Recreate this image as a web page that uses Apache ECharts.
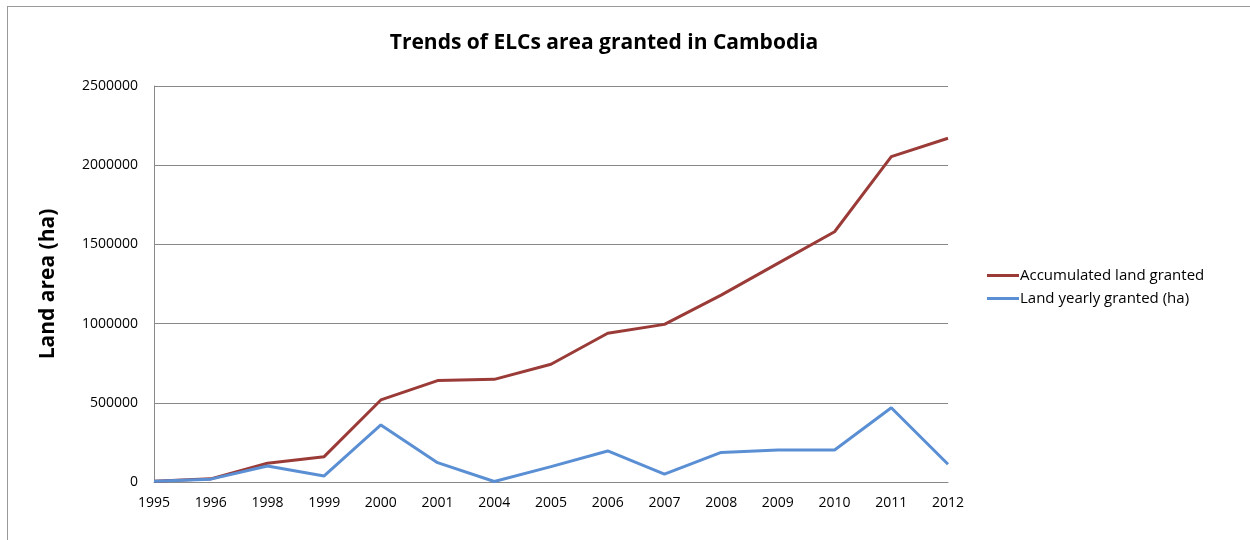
<!DOCTYPE html>
<html>
<head>
<meta charset="utf-8">
<script src="https://cdn.jsdelivr.net/npm/echarts@6/dist/echarts.min.js"></script>
<style>
  html, body { margin: 0; padding: 0; background: #fff; }
  #frame { position: absolute; left: 7px; top: 6px; width: 1300px; height: 600px; border-left: 1px solid #999; border-top: 1px solid #999; }
  #chart { position: absolute; left: 0; top: 0; width: 1250px; height: 540px; }
</style>
</head>
<body>
<div id="frame"></div>
<div id="chart"></div>
<script>
const years = ['1995', '1996', '1998', '1999', '2000', '2001', '2004', '2005', '2006', '2007', '2008', '2009', '2010', '2011', '2012'];
const accumulated = [5000, 20000, 118000, 160000, 518000, 640000, 648000, 743000, 939000, 995000, 1180000, 1380000, 1580000, 2054000, 2170000];
const yearly = [5000, 18000, 101000, 38000, 360000, 122000, 3000, 97000, 196000, 50000, 187000, 202000, 202000, 469000, 112000];

const font = '"Open Sans", "DejaVu Sans", sans-serif';
const chart = echarts.init(document.getElementById('chart'));

chart.setOption({
  backgroundColor: 'transparent',
  animation: false,
  title: {
    text: 'Trends of ELCs area granted in Cambodia',
    left: 599,
    textAlign: 'center',
    top: 28,
    textStyle: { fontFamily: font, fontSize: 21, fontWeight: 'bold', color: '#000' },
  },
  grid: { left: 154, right: 302, top: 86, bottom: 58 },
  legend: {
    orient: 'vertical',
    left: 982,
    top: 263,
    itemWidth: 32,
    itemHeight: 3,
    itemGap: 8,
    icon: 'rect',
    textStyle: { fontFamily: font, fontSize: 15, color: '#000', padding: [0, 0, 0, -4] },
    data: ['Accumulated land granted', 'Land yearly granted (ha)'],
  },
  xAxis: {
    type: 'category',
    data: years,
    boundaryGap: false,
    axisLine: { lineStyle: { color: '#888' } },
    axisTick: { show: false },
    axisLabel: { fontFamily: font, fontSize: 14, color: '#000', margin: 14 },
  },
  yAxis: {
    type: 'value',
    min: 0,
    max: 2500000,
    interval: 500000,
    name: 'Land area (ha)',
    nameLocation: 'middle',
    nameGap: 95,
    nameTextStyle: { fontFamily: font, fontSize: 21, fontWeight: 'bold', color: '#000' },
    axisLine: { show: true, lineStyle: { color: '#888' } },
    axisTick: { show: false },
    splitLine: { lineStyle: { color: '#888' } },
    axisLabel: { fontFamily: font, fontSize: 14, color: '#000', margin: 16, formatter: v => String(v) },
  },
  series: [
    {
      name: 'Accumulated land granted',
      type: 'line',
      data: accumulated,
      symbol: 'none',
      lineStyle: { color: '#9A3B38', width: 3 },
      itemStyle: { color: '#9A3B38' },
    },
    {
      name: 'Land yearly granted (ha)',
      type: 'line',
      data: yearly,
      symbol: 'none',
      lineStyle: { color: '#5B8FD4', width: 3 },
      itemStyle: { color: '#5B8FD4' },
    },
  ],
});
</script>
</body>
</html>
